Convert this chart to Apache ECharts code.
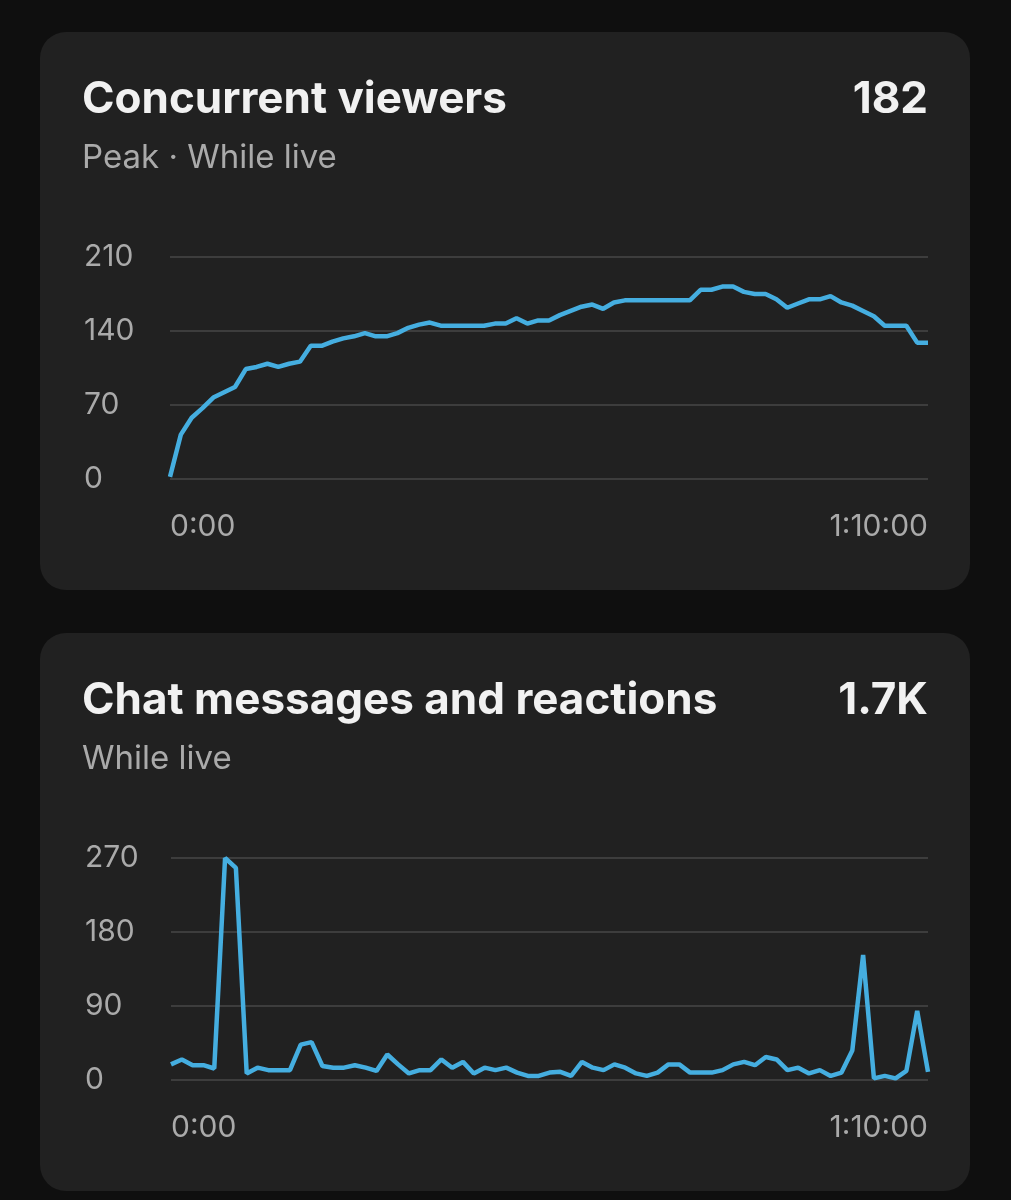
<!DOCTYPE html>
<html>
<head>
<meta charset="utf-8">
<script src="https://cdn.jsdelivr.net/npm/echarts@6/dist/echarts.min.js"></script>
<style>
html,body{margin:0;padding:0;background:#0f0f0f;}
#c{width:1011px;height:1200px;}
</style>
</head>
<body>
<div id="c"></div>
<script>
// Minutes 0..70 of the live stream
const minutes = Array.from({length: 71}, (_, i) => i);
const xTickLabels = {0: '0:00', 70: '1:10:00'};

const viewerTicks = [0, 70, 140, 210];
const viewers = [
  2, 42, 58, 67, 77, 82, 87, 104, 106, 109,
  106, 109, 111, 126, 126, 130, 133, 135, 138, 135,
  135, 138, 143, 146, 148, 145, 145, 145, 145, 145,
  147, 147, 152, 147, 150, 150, 155, 159, 163, 165,
  161, 167, 169, 169, 169, 169, 169, 169, 169, 179,
  179, 182, 182, 177, 175, 175, 170, 162, 166, 170,
  170, 173, 167, 164, 159, 154, 145, 145, 145, 129,
  129
];

const chatTicks = [0, 90, 180, 270];
const chat = [
  19, 25, 18, 18, 14, 270, 258, 8, 15, 12,
  12, 12, 43, 46, 17, 15, 15, 18, 15, 11,
  31, 19, 8, 12, 12, 25, 15, 22, 8, 15,
  12, 15, 9, 5, 5, 9, 10, 5, 22, 15,
  12, 19, 15, 8, 5, 9, 19, 19, 9, 9,
  9, 12, 19, 22, 18, 28, 25, 12, 15, 8,
  12, 5, 9, 36, 152, 2, 5, 2, 11, 84,
  10
];

const cards = [
  {title: 'Concurrent viewers', sub: 'Peak · While live', total: '182'},
  {title: 'Chat messages and reactions', sub: 'While live', total: '1.7K'}
];

const FONT = 'Inter, "Noto Sans", Roboto, sans-serif';
const CARD_TOP = [32, 633];
const GRID_TOP = [257, 858];

const chart = echarts.init(document.getElementById('c'), null, {renderer: 'canvas'});

const graphics = [];
cards.forEach((c, k) => {
  const t = CARD_TOP[k];
  graphics.push({
    type: 'rect', z: -10,
    shape: {x: 40, y: t, width: 930, height: 558, r: 26},
    style: {fill: '#212121'}
  });
  graphics.push({
    type: 'text', z: 10,
    style: {x: 82, y: t + 68, text: c.title, fill: '#f1f1f1',
      font: 'bold 44px ' + FONT, textVerticalAlign: 'middle'}
  });
  graphics.push({
    type: 'text', z: 10,
    style: {x: 928, y: t + 68, text: c.total, fill: '#f1f1f1', textAlign: 'right',
      font: 'bold 44px ' + FONT, textVerticalAlign: 'middle'}
  });
  graphics.push({
    type: 'text', z: 10,
    style: {x: 82, y: t + 126, text: c.sub, fill: '#aaaaaa',
      font: '33px ' + FONT, textVerticalAlign: 'middle'}
  });
});

function xAxis(idx) {
  return {
    type: 'category', gridIndex: idx, data: minutes, boundaryGap: false,
    axisLine: {show: false}, axisTick: {show: false}, splitLine: {show: false},
    axisLabel: {
      interval: 0, margin: 33, color: '#aaaaaa', fontSize: 30, fontFamily: FONT,
      formatter: (v, i) => xTickLabels[i] || '',
      alignMinLabel: 'left', alignMaxLabel: 'right'
    }
  };
}
function yAxis(idx, ticks) {
  return {
    type: 'value', gridIndex: idx, min: ticks[0], max: ticks[ticks.length - 1],
    interval: ticks[1] - ticks[0],
    axisLine: {show: false}, axisTick: {show: false},
    splitLine: {lineStyle: {color: '#3d3d3d', width: 2}},
    axisLabel: {margin: 86, align: 'left', color: '#aaaaaa', fontSize: 30, fontFamily: FONT}
  };
}

chart.setOption({
  backgroundColor: '#0f0f0f',
  animation: false,
  graphic: graphics,
  grid: [
    {left: 170, right: 83, top: GRID_TOP[0], height: 222},
    {left: 171, right: 83, top: GRID_TOP[1], height: 222}
  ],
  xAxis: [xAxis(0), xAxis(1)],
  yAxis: [yAxis(0, viewerTicks), yAxis(1, chatTicks)],
  series: [
    {type: 'line', xAxisIndex: 0, yAxisIndex: 0, data: viewers, showSymbol: false,
      lineStyle: {color: '#45aee0', width: 4.5}, z: 5},
    {type: 'line', xAxisIndex: 1, yAxisIndex: 1, data: chat, showSymbol: false,
      lineStyle: {color: '#45aee0', width: 4.5}, z: 5}
  ]
});
</script>
</body>
</html>
